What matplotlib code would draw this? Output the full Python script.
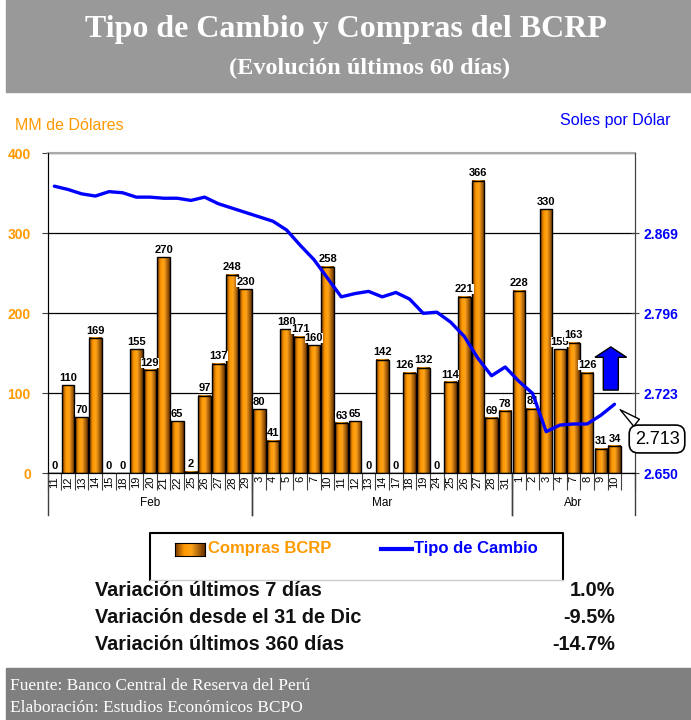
import matplotlib.pyplot as plt
import numpy as np
from matplotlib.patches import Rectangle, Polygon
from matplotlib.lines import Line2D
from matplotlib.colors import LinearSegmentedColormap
import matplotlib.transforms as mtransforms

# --- datos ---
days = ['11', '12', '13', '14', '15', '18', '19', '20', '21', '22', '25', '26', '27', '28', '29',
        '3', '4', '5', '6', '7', '10', '11', '12', '13', '14', '17', '18', '19', '24', '25', '26',
        '27', '28', '31',
        '1', '2', '3', '4', '7', '8', '9', '10']
months = ['Feb', 'Mar', 'Abr']
month_bounds = [(-0.5, 14.5), (14.5, 33.5), (33.5, 42.5)]

compras = [0, 110, 70, 169, 0, 0, 155, 129, 270, 65, 2, 97, 137, 248, 230,
           80, 41, 180, 171, 160, 258, 63, 65, 0, 142, 0, 126, 132, 0, 114, 221, 366, 69, 78,
           228, 81, 330, 155, 163, 126, 31, 34]

tipo_cambio = [2.912, 2.909, 2.905, 2.903, 2.907, 2.906, 2.902, 2.902, 2.901, 2.901,
               2.899, 2.902, 2.896, 2.892, 2.888, 2.884, 2.880, 2.872, 2.858, 2.845,
               2.828, 2.811, 2.814, 2.816, 2.811, 2.815, 2.809, 2.796, 2.797, 2.788,
               2.775, 2.755, 2.739, 2.747, 2.734, 2.723, 2.688, 2.694, 2.695, 2.695,
               2.703, 2.713]

left_ticks = [0, 100, 200, 300, 400]
right_ticks = [2.650, 2.723, 2.796, 2.869]

stats_labels = ['Variación últimos 7 días', 'Variación desde el 31 de Dic', 'Variación últimos 360 días']
stats_values = ['1.0%', '-9.5%', '-14.7%']

ORANGE = '#FF9900'
BLUE = '#0000FF'
SANS = 'Liberation Sans'
W, H = 691, 720

# pequeño desplazamiento de etiquetas que chocan (como en el original)
label_shift = {26: -0.35}


def fx(px):
    return px / W


def fy(py):
    return 1 - py / H


fig = plt.figure(figsize=(6.91, 7.2), dpi=100)
fig.patch.set_facecolor('white')

# banner titulo
fig.patches.append(Rectangle((fx(6), fy(92)), fx(685), 92 / H, transform=fig.transFigure,
                             color='#999999', zorder=0))
fig.text(fx(346), fy(30), 'Tipo de Cambio y Compras del BCRP', color='white', fontsize=23,
         fontweight='bold', family='Liberation Serif', ha='center', va='center')
fig.text(fx(370), fy(68), '(Evolución últimos 60 días)', color='white', fontsize=17.5,
         fontweight='bold', family='Liberation Serif', ha='center', va='center')

# banner fuente
fig.patches.append(Rectangle((fx(6), 0), fx(685), 52 / H, transform=fig.transFigure,
                             color='#808080', zorder=0))
fig.text(fx(10), fy(686), 'Fuente: Banco Central de Reserva del Perú', color='white',
         fontsize=12.5, family='Liberation Serif', va='center')
fig.text(fx(10), fy(708), 'Elaboración: Estudios Económicos BCPO', color='white',
         fontsize=12.5, family='Liberation Serif', va='center')

# --- grafico ---
ax = fig.add_axes([fx(47.5), fy(473.3), (635 - 47.5) / W, 320 / H])
x = np.arange(len(compras))

grad_cmap = LinearSegmentedColormap.from_list(
    'barra', [(0, '#7A3A00'), (0.3, '#FF9900'), (0.55, '#FFA31A'), (1, '#6B3300')])
grad = grad_cmap(np.linspace(0, 1, 32))[None, :, :]
bw = 0.92
for xi, v in zip(x, compras):
    if v > 0:
        ax.imshow(grad, extent=[xi - bw / 2, xi + bw / 2, 0, v], aspect='auto',
                  interpolation='bilinear', zorder=2)
ax.bar(x, compras, width=bw, fill=False, edgecolor='black', linewidth=1, zorder=3)

for xi, v in zip(x, compras):
    ax.text(xi + label_shift.get(xi, 0), v + 3, str(v), ha='center', va='bottom', fontsize=8,
            fontweight='bold', family=SANS, zorder=4,
            bbox=dict(facecolor='white', edgecolor='none', pad=0))

ax.set_xlim(-0.5, 42.5)
ax.set_ylim(0, 400)
ax.set_yticks(left_ticks)
ax.set_yticklabels([str(t) for t in left_ticks], color=ORANGE, fontweight='bold', fontsize=10,
                   family=SANS)
ax.yaxis.grid(True, color='black', linewidth=0.9, zorder=1)
ax.set_axisbelow(True)
ax.tick_params(axis='y', length=4, color='#404040', pad=8)

ax.set_xticks(x)
ax.set_xticklabels(days, rotation=90, fontsize=8, family=SANS)
ax.set_xticks(np.arange(-0.5, 43, 1), minor=True)
ax.tick_params(axis='x', which='major', length=0, pad=2)
ax.tick_params(axis='x', which='minor', length=12, color='#404040', width=0.8)

for s in ['left', 'right']:
    ax.spines[s].set_color('#404040')
ax.spines['top'].set_color('#aaaaaa')
ax.spines['top'].set_linewidth(1.5)
ax.spines['bottom'].set_color('black')

# separadores de meses
trans = mtransforms.blended_transform_factory(ax.transData, ax.transAxes)
for a, b in month_bounds:
    for xb in (a, b):
        ax.add_line(Line2D([xb, xb], [0, -0.13], transform=trans, color='#404040',
                           linewidth=1, clip_on=False))
for m, (a, b) in zip(months, month_bounds):
    ax.text((a + b) / 2, -0.093, m, transform=trans, ha='center', va='center',
            fontsize=8.5, family=SANS)

# eje derecho
ax2 = ax.twinx()
ax2.plot(x, tipo_cambio, color=BLUE, linewidth=2.4, solid_joinstyle='round',
         solid_capstyle='round', zorder=5)
ax2.set_ylim(2.650, 2.942)
ax2.set_yticks(right_ticks)
ax2.set_yticklabels([f'{t:.3f}' for t in right_ticks], color=BLUE, fontweight='bold',
                    fontsize=10, family=SANS)
ax2.tick_params(axis='y', direction='inout', length=6, color='#404040', pad=3)
ax2.spines['right'].set_color('#404040')
ax2.spines['top'].set_visible(False)

# flecha hacia arriba
arrow = Polygon([(40.73, 158), (41.89, 145), (41.28, 145), (41.28, 104), (40.18, 104),
                 (40.18, 145), (39.57, 145)], closed=True, facecolor=BLUE,
                edgecolor='black', linewidth=1, zorder=6, clip_on=False)
ax.add_patch(arrow)

ax2.annotate(f'{tipo_cambio[-1]:.3f}', xy=(618, H - 408), xycoords='figure pixels',
             xytext=(657, H - 439), textcoords='figure pixels', ha='center', va='center',
             fontsize=13, family=SANS, annotation_clip=False,
             bbox=dict(boxstyle='round,pad=0.3,rounding_size=0.5', fc='white', ec='black', lw=1.2),
             arrowprops=dict(arrowstyle='wedge,tail_width=0.5', fc='white', ec='black', lw=1))

# titulos de ejes
fig.text(fx(15), fy(125), 'MM de Dólares', color=ORANGE, fontsize=11.5, family=SANS,
         va='center')
fig.text(fx(671), fy(121), 'Soles por Dólar', color=BLUE, fontsize=11.5, family=SANS,
         va='center', ha='right')

# leyenda
lx0, lx1, ly0, ly1 = fx(150), fx(563), fy(533), fy(580)
fig.add_artist(Line2D([lx0, lx0, lx1, lx1], [ly1, ly0, ly0, ly1], color='black', lw=1.5,
                      transform=fig.transFigure))
fig.add_artist(Line2D([lx0, lx1], [ly1, ly1], color='#cccccc', lw=1,
                      transform=fig.transFigure))
sw = fig.add_axes([fx(175), fy(556), 30 / W, 13 / H])
sw.imshow(grad, aspect='auto', interpolation='bilinear')
sw.set_xticks([])
sw.set_yticks([])
for s in sw.spines.values():
    s.set_color('black')
fig.text(fx(208), fy(549), 'Compras BCRP', color=ORANGE, fontsize=12, fontweight='bold',
         family=SANS, va='center')
fig.add_artist(Line2D([fx(381), fx(412)], [fy(549), fy(549)], color=BLUE, lw=3,
                      transform=fig.transFigure))
fig.text(fx(414), fy(549), 'Tipo de Cambio', color=BLUE, fontsize=12, fontweight='bold',
         family=SANS, va='center')

# variaciones
for k, (lab, val) in enumerate(zip(stats_labels, stats_values)):
    yy = fy(591 + 26.5 * k)
    fig.text(fx(95), yy, lab, fontsize=14.3, fontweight='bold', va='center', color='#111111',
             family=SANS)
    fig.text(fx(615), yy, val, fontsize=14.3, fontweight='bold', va='center', ha='right',
             color='#111111', family=SANS)

fig.savefig('out.png', dpi=100)
